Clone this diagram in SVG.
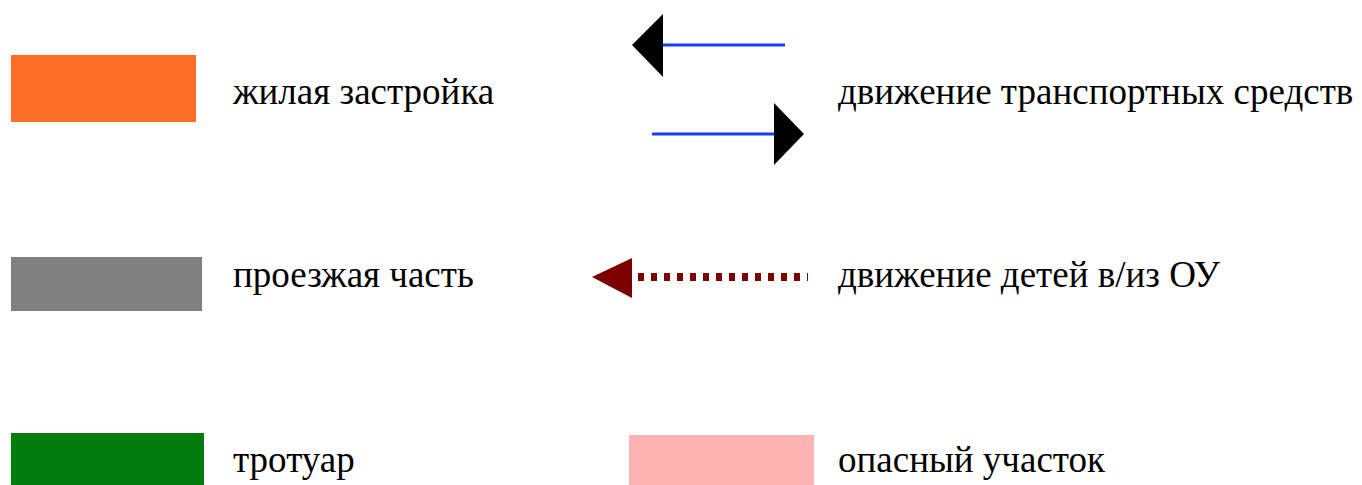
<svg xmlns="http://www.w3.org/2000/svg" width="1362" height="485" viewBox="0 0 1362 485">
<style>
.t{font-family:"Liberation Serif","Times New Roman",serif;font-size:37px;fill:#000}
.blue{stroke:#1a3cff;stroke-width:3;fill:none}
</style>
<rect width="1362" height="485" fill="#fff"/>
<g id="legend-housing"><rect x="11" y="55" width="185" height="67" fill="#ff6e26"/><text class="t" x="233" y="104">жилая застройка</text></g>
<g id="legend-road"><rect x="11" y="257" width="191" height="54" fill="#808080"/><text class="t" x="233" y="287">проезжая часть</text></g>
<g id="legend-sidewalk"><rect x="11" y="433" width="193" height="52" fill="#037c0e"/><text class="t" x="233" y="472">тротуар</text></g>
<g id="legend-danger"><rect x="629" y="435" width="185" height="50" fill="#ffb3b3"/><text class="t" x="838" y="472">опасный участок</text></g>
<g id="connectors">
<line class="blue" x1="663" y1="45" x2="785" y2="45"/>
<polygon points="632,45 663,14 663,77" fill="#000"/>
<line class="blue" x1="652" y1="134" x2="774" y2="134"/>
<polygon points="804,134 774,103 774,165" fill="#000"/>
<line x1="638" y1="277" x2="808" y2="277" stroke="#7b0000" stroke-width="8" stroke-dasharray="6 7"/>
<polygon points="592,277 632,258 632,298" fill="#7b0000"/>
</g>
<g id="legend-traffic"><text class="t" x="838" y="104">движение транспортных средств</text></g>
<g id="legend-children"><text class="t" x="838" y="287">движение детей в/из ОУ</text></g>
</svg>
